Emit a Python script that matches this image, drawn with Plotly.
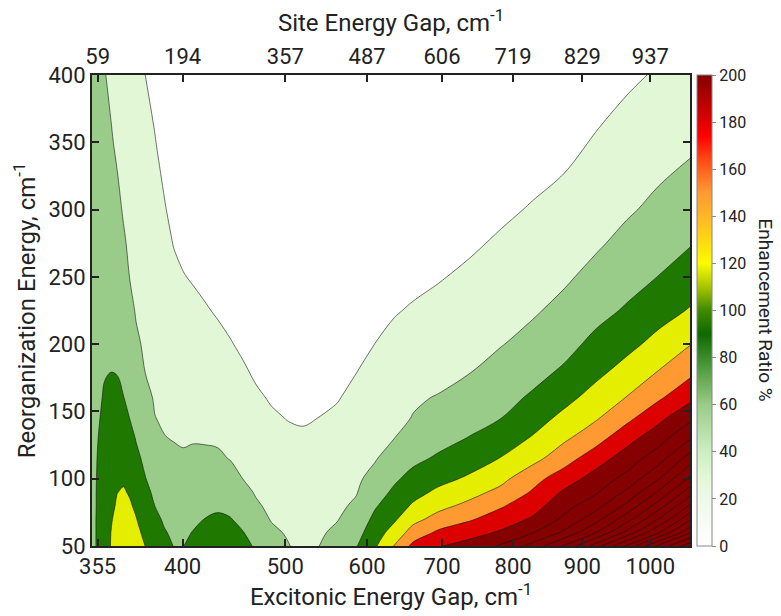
import numpy as np
import plotly.graph_objects as go

# ---------------- data ----------------
# x grid: site energy gap (cm^-1); the bottom axis shows the excitonic gap
SITE_GAP = [50, 60, 70, 80, 90, 100, 110, 120, 135, 150, 165, 180, 195, 210, 230, 250,
            270, 290, 310, 335, 360, 385, 410, 440, 470, 500, 530, 560, 600, 650, 700,
            750, 800, 850, 900, 950, 1000]
# y grid: reorganization energy (cm^-1)
REORG = [50, 60, 70, 80, 90, 100, 115, 130, 145, 160, 180, 200, 225, 250, 275, 300, 350, 400]

# enhancement ratio %, one list per SITE_GAP column (values along REORG)
RATIO_COLS = [
    [85, 85, 85, 85, 85, 85, 84, 83, 82, 81, 80, 79, 77, 76, 75, 74, 72, 70],
    [93, 93, 93, 92.5, 92.5, 92, 91.5, 90.2, 88, 86, 84, 82.5, 80, 78, 76, 74, 70, 66],
    [106, 106, 105.5, 105, 104, 103, 101, 98.5, 95.5, 92.5, 88.5, 85, 81, 77, 73, 70, 65, 61],
    [121, 120, 118, 114, 111, 108.5, 105, 101.5, 98, 94.5, 89.8, 86, 81.5, 77, 73, 69, 62, 56],
    [132, 129, 126, 123, 119.6, 116.2, 110.9, 105.7, 100.5, 95.2, 89, 84.9, 79.8, 74.7, 69.6, 64.5, 56.8, 51.4],
    [140, 136, 132, 127, 122, 117, 110.5, 104, 97, 90.5, 85.4, 80.6, 74.5, 68.5, 62.4, 58.3, 52.5, 46.7],
    [137, 132, 127, 122.5, 118, 114.2, 106.6, 99, 89.7, 85.3, 79.4, 73.5, 66.2, 59.5, 56.6, 53.7, 47.8, 41.9],
    [130, 126, 121, 116.1, 110, 104.4, 96.1, 88.6, 83.2, 77.9, 70.7, 63.6, 58.2, 55.2, 52.2, 49.2, 43.1, 37.1],
    [119.5, 114.1, 108.2, 102.4, 96.5, 90.6, 84.2, 78.1, 71.9, 65.8, 59.2, 56.5, 53.2, 49.9, 46.5, 43.2, 36.4, 29.8],
    [111, 103.8, 96.5, 89.6, 85.1, 80.6, 73.9, 67.2, 60.4, 58, 55.1, 52.3, 48.7, 45.1, 41.6, 38, 30.9, 23.7],
    [101, 92, 86.5, 82.2, 77.9, 73.6, 67.1, 60.6, 57.7, 55.2, 51.8, 48.4, 44.2, 40, 35.7, 31.5, 23, 14.6],
    [89, 85.5, 81.5, 77.5, 73.5, 69.6, 63.5, 59.2, 56.1, 52.5, 48.4, 44.4, 39.3, 34.3, 29.2, 24.1, 14, 4],
    [89.5, 86.5, 82.5, 78, 73.6, 69.1, 62.3, 58.0, 54.6, 51.0, 46.6, 42.1, 36.5, 30.9, 25.3, 19.7, 8.5, 2],
    [96, 90.6, 86.0, 80.8, 75.8, 70.7, 63.1, 58.8, 55.1, 51.4, 46.5, 41.6, 35.4, 28.3, 22.1, 16, 3.7, 2],
    [100, 95, 90.5, 84.8, 78.9, 73.1, 64.4, 57.9, 53.8, 49.6, 44.1, 38.6, 31.7, 24.8, 17.9, 11, 2, 2],
    [101, 97, 92.5, 87.3, 80.5, 73.6, 63.4, 57.0, 52.4, 47.8, 41.6, 35.5, 27.9, 20.2, 12.6, 4.9, 2, 2],
    [99, 95, 91, 84, 76.5, 69, 59.0, 54.1, 49.2, 44.3, 37.8, 31.3, 23.2, 15, 6.9, 2, 2, 2],
    [95, 90.8, 83.5, 75.4, 67.3, 59.7, 54.6, 49.6, 44.5, 39.4, 32.7, 26, 17.5, 9.1, 2, 2, 2, 2],
    [88, 79.8, 71.5, 63.3, 58.0, 54.5, 49.3, 44.1, 38.9, 33.6, 26.7, 19.8, 11.1, 2.4, 2, 2, 2, 2],
    [76, 65.3, 58.3, 54.9, 51.6, 48.2, 43.1, 38.1, 33.0, 28, 21.2, 14.5, 6.1, 2, 2, 2, 2, 2],
    [62, 57.7, 54.3, 51, 47.7, 44.3, 39.3, 34.3, 29.4, 24.3, 17.7, 11, 2.7, 2, 2, 2, 2, 2],
    [52, 50.5, 49, 47.5, 45, 42.5, 38.5, 33, 28, 23, 16.5, 9.8, 2, 2, 2, 2, 2, 2],
    [59.5, 56.8, 53.7, 50.5, 47.4, 44.2, 39.5, 34.7, 30.2, 25.3, 18.9, 12.6, 4.7, 2, 2, 2, 2, 2],
    [74, 64.5, 59, 55.6, 52.3, 48.9, 43.9, 38.9, 33.9, 28.8, 22.1, 15.4, 7, 2, 2, 2, 2, 2],
    [88.5, 79.5, 71.6, 63.7, 58.7, 55.5, 50.6, 45.7, 40.9, 36, 29.5, 23, 15, 6.8, 2, 2, 2, 2],
    [117, 107, 97, 87.3, 78.0, 68.8, 58.2, 53.3, 48.4, 43.4, 36.9, 30.3, 22.1, 13.9, 5.7, 2, 2, 2],
    [151, 131.3, 115.7, 105.3, 94.7, 85.7, 72.9, 59.8, 54.8, 49.8, 43.2, 36.5, 28.2, 19.8, 11.5, 3.2, 2, 2],
    [187.5, 162.5, 140.6, 123.5, 110.4, 98.4, 83.8, 72.3, 60.8, 57.5, 50.5, 43.5, 32.4, 23.7, 15, 6.3, 2, 2],
    [208, 185, 160.6, 141.2, 125.5, 111.6, 93.6, 81.1, 70.8, 61.2, 53.6, 46.4, 37.2, 28.2, 19.2, 10.1, 2, 2],
    [222, 198.7, 176.7, 157.4, 140.3, 124.4, 106.9, 91.3, 80.5, 70.7, 58.9, 52.1, 43.5, 34.8, 26.2, 17.5, 2, 2],
    [244, 214, 194.6, 176.7, 158.0, 142.2, 121.3, 105.5, 89.9, 81.3, 69.8, 58.9, 50.5, 42.1, 33.6, 25.2, 8.3, 2],
    [281, 238.8, 213.7, 197.9, 182.9, 170.1, 140.8, 122.4, 107.8, 93.8, 80.9, 68.5, 56.9, 48.5, 40.1, 32.1, 16.2, 2],
    [334, 275.6, 246.1, 228.9, 214.3, 195, 167.4, 145.2, 127.2, 111.8, 93.6, 81.1, 67.2, 56, 47.5, 39.1, 22.2, 5.4],
    [405, 329.1, 288, 257.9, 236.1, 222.4, 196.2, 168, 146.8, 130.7, 112.3, 96.9, 81.3, 67.6, 56.3, 48.5, 32.4, 16.4],
    [487, 400.2, 347.6, 307.2, 276.2, 249.4, 224.3, 199.9, 172.7, 151.5, 130.2, 112.1, 93.1, 79.7, 67.4, 56.8, 41.1, 25.3],
    [577, 479.4, 421.2, 374.3, 333.8, 298.8, 256.8, 227.6, 202.4, 175.9, 150.5, 129.2, 108.2, 90.5, 78.1, 66.2, 48.4, 32.7],
    [650, 566.3, 504, 452.3, 406.2, 366, 313.3, 267.7, 233.6, 202.9, 171.9, 148.9, 122.1, 104.3, 88.1, 76.2, 54.9, 39],
]

# axis ticks: positions on the site-gap axis, with site and excitonic labels
TICK_SITE = [59, 194, 357, 487, 606, 719, 829, 937]
TICK_EXCITON = ["355", "400", "500", "600", "700", "800", "900", "1000"]
Y_TICKS = [50, 100, 150, 200, 250, 300, 350, 400]
CB_TICKS = [0, 20, 40, 60, 80, 100, 120, 140, 160, 180, 200]

# contour levels
LEVEL_START, LEVEL_END, LEVEL_STEP = 30, 630, 30

# ---------------- styling ----------------
FONT = "Roboto"
TXT = "#222222"
BAND_COLORS = ["#ffffff", "#e1f7d5", "#99cc88", "#1f7800", "#e5ee00",
               "#ff9a33", "#dd0000"]  # then dark red for everything above 210
DARK_RED = "#850000"

z = np.array(RATIO_COLS, dtype=float).T
n_levels = int(round((LEVEL_END - LEVEL_START) / LEVEL_STEP)) + 1
n_bands = n_levels + 1
band_cols = BAND_COLORS + [DARK_RED] * (n_bands - len(BAND_COLORS))
fill_scale = [[k / n_levels, c] for k, c in enumerate(band_cols)]

cb_scale = [[0.0, "#ffffff"], [0.1, "#eef9ea"], [0.15, "#e1f7d5"], [0.2, "#cdeec2"],
            [0.3, "#99cc88"], [0.38, "#4e9a3c"], [0.45, "#0f6a00"], [0.5, "#3f8a00"],
            [0.55, "#a8c400"], [0.6, "#fcfc00"], [0.68, "#ffc21e"], [0.75, "#ff9a33"],
            [0.82, "#ff4a14"], [0.87, "#ff0000"], [0.92, "#cc0000"], [1.0, "#850000"]]

fig = go.Figure()
fig.add_trace(go.Contour(
    x=SITE_GAP, y=REORG, z=z,
    autocontour=False,
    contours=dict(start=LEVEL_START, end=LEVEL_END, size=LEVEL_STEP, coloring="fill"),
    colorscale=fill_scale,
    showscale=False,
    line=dict(color="rgba(20,20,20,0.85)", width=0.7, smoothing=1.0),
    hoverinfo="skip",
))
# continuous colour bar
fig.add_trace(go.Scatter(
    x=[None], y=[None], mode="markers", showlegend=False, hoverinfo="skip",
    marker=dict(color=[0], cmin=0, cmax=200, colorscale=cb_scale, showscale=True,
                colorbar=dict(
                    x=1.0117, xanchor="left", y=0.5, yanchor="middle", len=1.0,
                    lenmode="fraction", thickness=15, ypad=0, xpad=0,
                    outlinecolor="#888", outlinewidth=1,
                    tickvals=CB_TICKS, ticks="outside", ticklen=4,
                    tickcolor="#888", tickfont=dict(family=FONT, size=16, color=TXT),
                )),
))
# dummy trace for the top axis
fig.add_trace(go.Scatter(x=[None], y=[None], xaxis="x2", yaxis="y",
                         showlegend=False, hoverinfo="skip"))

axis_common = dict(showline=True, linecolor="#222", linewidth=2, ticks="inside",
                   ticklen=7, tickwidth=2, tickcolor="#222", showgrid=False, zeroline=False,
                   tickfont=dict(family=FONT, size=22, color=TXT))
title_font = dict(family=FONT, size=24, color=TXT)
fig.update_layout(
    width=781, height=616,
    margin=dict(l=92, r=91, t=75, b=70, autoexpand=False),
    plot_bgcolor="white", paper_bgcolor="white",
    xaxis=dict(range=[50, 1000], tickvals=TICK_SITE, ticktext=TICK_EXCITON,
               mirror=True,
               title=dict(text="Excitonic Energy Gap, cm<sup>-1</sup>", standoff=6,
                          font=title_font),
               **axis_common),
    xaxis2=dict(range=[50, 1000], overlaying="x", side="top", anchor="y",
                tickvals=TICK_SITE, ticktext=[str(v) for v in TICK_SITE],
                title=dict(text="Site Energy Gap, cm<sup>-1</sup>", standoff=6,
                           font=title_font),
                **axis_common),
    yaxis=dict(range=[50, 400], tickvals=Y_TICKS, mirror="ticks",
               title=dict(text="Reorganization Energy, cm<sup>-1</sup>", standoff=6,
                          font=title_font),
               **axis_common),
    annotations=[dict(text="Enhancement Ratio %", textangle=90, showarrow=False,
                      xref="paper", yref="paper", x=1.127, y=0.5,
                      xanchor="center", yanchor="middle",
                      font=dict(family=FONT, size=19, color=TXT))],
)

fig.write_html("out.html")
